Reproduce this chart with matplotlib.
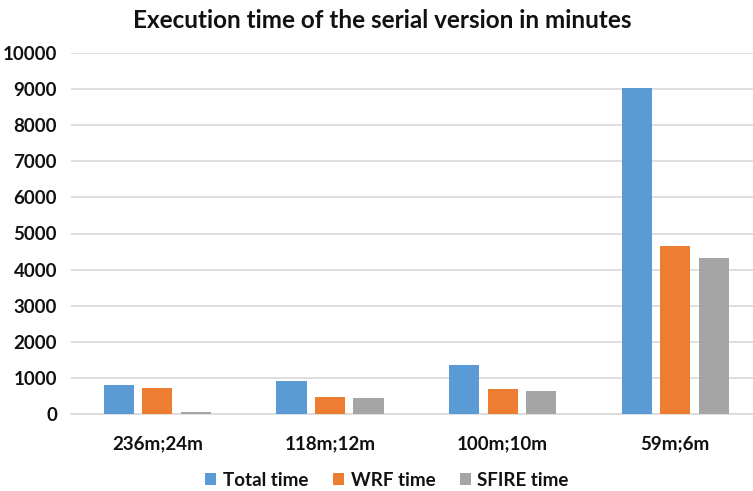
import matplotlib
matplotlib.use("Agg")
import matplotlib.pyplot as plt
import numpy as np

categories = ["236m;24m", "118m;12m", "100m;10m", "59m;6m"]
total_time = [790, 910, 1360, 9040]
wrf_time = [730, 460, 700, 4650]
sfire_time = [55, 430, 640, 4320]
series_names = ["Total time", "WRF time", "SFIRE time"]
colors = ["#5B9BD5", "#ED7D31", "#A5A5A5"]
y_ticks = list(range(0, 10001, 1000))

plt.rcParams["font.family"] = ["Lato", "DejaVu Sans"]
plt.rcParams["font.weight"] = "bold"
text_color = "#111111"

fig = plt.figure(figsize=(7.53, 4.91), dpi=100)
ax = fig.add_axes([71 / 753, 1 - 414 / 491, (753 - 71) / 753, (414 - 53) / 491])

x = np.arange(len(categories))
width = 0.174
step = 0.223
for i, (vals, name, c) in enumerate(zip([total_time, wrf_time, sfire_time], series_names, colors)):
    ax.bar(x + (i - 1) * step, vals, width, color=c, label=name, zorder=3)

ax.set_ylim(0, 10000)
ax.set_xlim(-0.5, 3.45)
ax.set_yticks(y_ticks)
ax.set_yticklabels([str(v) for v in y_ticks], fontsize=13.5, fontweight="bold", color=text_color)
ax.set_xticks(x)
ax.set_xticklabels(categories, fontsize=13.5, fontweight="bold", color=text_color)
ax.tick_params(axis="both", length=0)
ax.tick_params(axis="x", pad=15)
ax.tick_params(axis="y", pad=10)
ax.grid(axis="y", color="#D9D9D9", linewidth=1.2, zorder=0)
for s in ["top", "right", "left"]:
    ax.spines[s].set_visible(False)
ax.spines["bottom"].set_color("#D9D9D9")
ax.spines["bottom"].set_linewidth(1.2)

fig.text(382 / 753, 1 - 20 / 491, "Execution time of the serial version in minutes",
         ha="center", va="center", fontsize=17.5, fontweight="bold", color=text_color)

leg = fig.legend(loc="center", bbox_to_anchor=(387 / 753, 1 - 480 / 491), ncol=3, frameon=False,
                 prop={"size": 13.5, "weight": "bold"}, handlelength=0.6, handleheight=0.6,
                 handletextpad=0.35, columnspacing=1.3)
for t in leg.get_texts():
    t.set_color(text_color)

fig.savefig("out.png", dpi=100)
